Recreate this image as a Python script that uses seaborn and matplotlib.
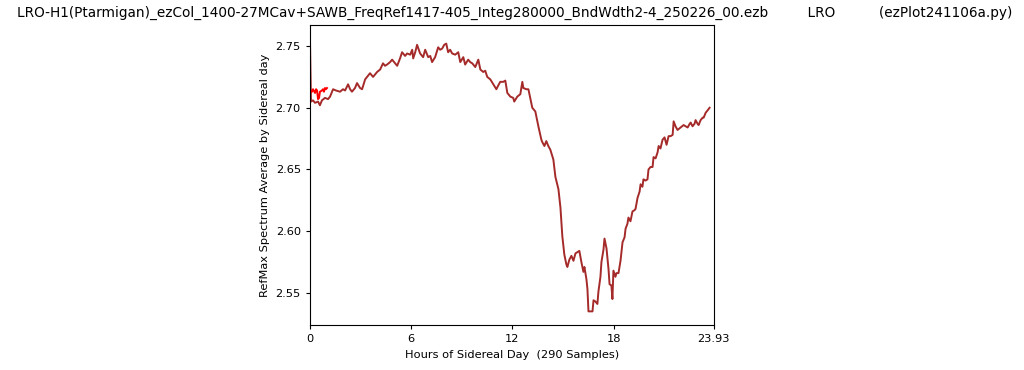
import pandas as pd
import matplotlib
matplotlib.use("Agg")
import matplotlib.pyplot as plt
import seaborn as sns

# Hours of sidereal day and RefMax average
hours = [0.00, 0.06, 0.18, 0.30, 0.48, 0.59, 0.71, 0.89, 1.07, 1.19,
         1.37, 1.54, 1.78, 1.96, 2.08, 2.26, 2.38, 2.49, 2.67, 2.79,
         2.97, 3.09, 3.27, 3.44, 3.56, 3.74, 3.86, 3.98, 4.16, 4.33,
         4.45, 4.57, 4.75, 4.87, 5.05, 5.17, 5.34, 5.46, 5.64, 5.76,
         5.94, 6.06, 6.12, 6.24, 6.35, 6.53, 6.71, 6.83, 7.01, 7.13,
         7.24, 7.42, 7.60, 7.72, 7.84, 7.96, 8.08, 8.19, 8.31, 8.43,
         8.61, 8.79, 8.91, 9.09, 9.20, 9.38, 9.50, 9.62, 9.80, 9.98,
         10.10, 10.27, 10.39, 10.51, 10.69, 10.87, 11.05, 11.16, 11.28, 11.46,
         11.58, 11.70, 11.88, 12.05, 12.11, 12.29, 12.47, 12.59, 12.65, 12.83,
         12.95, 13.18, 13.36, 13.54, 13.72, 13.78, 13.90, 14.01, 14.13, 14.25,
         14.43, 14.55, 14.73, 14.85, 14.96, 15.08, 15.20, 15.26, 15.38, 15.50,
         15.62, 15.74, 15.86, 15.97, 16.09, 16.21, 16.27, 16.39, 16.45, 16.51,
         16.63, 16.75, 16.81, 16.92, 17.04, 17.10, 17.22, 17.28, 17.40, 17.46,
         17.58, 17.70, 17.76, 17.87, 17.93, 17.99, 18.11, 18.17, 18.29, 18.41,
         18.53, 18.65, 18.71, 18.82, 18.88, 19.00, 19.12, 19.24, 19.30, 19.42,
         19.54, 19.60, 19.71, 19.77, 19.89, 20.01, 20.07, 20.19, 20.31, 20.37,
         20.49, 20.61, 20.67, 20.78, 20.90, 21.02, 21.14, 21.26, 21.38, 21.50,
         21.56, 21.67, 21.79, 21.97, 22.15, 22.27, 22.39, 22.51, 22.57, 22.68,
         22.80, 22.86, 22.98, 23.04, 23.16, 23.28, 23.34, 23.46, 23.58, 23.69]
refmax = [2.756, 2.705, 2.706, 2.704, 2.705, 2.702, 2.706, 2.708, 2.707, 2.709,
          2.715, 2.714, 2.713, 2.715, 2.714, 2.719, 2.715, 2.713, 2.716, 2.720,
          2.716, 2.715, 2.723, 2.726, 2.728, 2.725, 2.727, 2.729, 2.731, 2.736,
          2.734, 2.735, 2.737, 2.739, 2.736, 2.734, 2.740, 2.745, 2.742, 2.744,
          2.743, 2.747, 2.740, 2.745, 2.751, 2.744, 2.741, 2.747, 2.741, 2.742,
          2.737, 2.741, 2.749, 2.747, 2.748, 2.751, 2.752, 2.745, 2.747, 2.744,
          2.743, 2.745, 2.737, 2.741, 2.735, 2.739, 2.737, 2.736, 2.733, 2.739,
          2.731, 2.729, 2.730, 2.725, 2.723, 2.719, 2.715, 2.718, 2.721, 2.721,
          2.722, 2.712, 2.709, 2.708, 2.705, 2.709, 2.711, 2.721, 2.716, 2.715,
          2.715, 2.700, 2.697, 2.685, 2.674, 2.672, 2.669, 2.673, 2.669, 2.666,
          2.658, 2.644, 2.634, 2.619, 2.596, 2.581, 2.573, 2.571, 2.577, 2.580,
          2.576, 2.582, 2.583, 2.584, 2.575, 2.567, 2.571, 2.561, 2.553, 2.535,
          2.535, 2.535, 2.544, 2.543, 2.541, 2.551, 2.563, 2.575, 2.585, 2.594,
          2.586, 2.569, 2.557, 2.556, 2.545, 2.568, 2.563, 2.566, 2.566, 2.576,
          2.591, 2.595, 2.602, 2.606, 2.611, 2.608, 2.616, 2.617, 2.618, 2.627,
          2.632, 2.638, 2.636, 2.642, 2.641, 2.642, 2.650, 2.652, 2.652, 2.660,
          2.659, 2.664, 2.669, 2.667, 2.674, 2.676, 2.670, 2.677, 2.677, 2.678,
          2.689, 2.685, 2.682, 2.684, 2.686, 2.685, 2.684, 2.687, 2.688, 2.685,
          2.687, 2.690, 2.687, 2.686, 2.690, 2.692, 2.692, 2.696, 2.698, 2.700]

# short red overlay at the start of the day
red_hours = [0.00, 0.06, 0.12, 0.18, 0.30, 0.36, 0.42, 0.48, 0.54, 0.59,
             0.71, 0.77, 0.83, 0.89, 0.95, 1.01]
red_vals = [2.711, 2.714, 2.713, 2.715, 2.712, 2.715, 2.714, 2.707, 2.708, 2.713,
            2.714, 2.715, 2.713, 2.716, 2.715, 2.716]

x_ticks = [0, 6, 12, 18, 23.93]
x_tick_labels = ["0", "6", "12", "18", "23.93"]

title = ("LRO-H1(Ptarmigan)_ezCol_1400-27MCav+SAWB_FreqRef1417-405_Integ280000_BndWdth2-4_250226_00.ezb"
         "         LRO          (ezPlot241106a.py)")

df = pd.DataFrame({"hours": hours, "refmax": refmax})
df_red = pd.DataFrame({"hours": red_hours, "refmax": red_vals})

fig = plt.figure(figsize=(10.24, 3.7), dpi=100)
ax = fig.add_axes([0.3027, 0.1216, 0.3942, 0.8108])

sns.lineplot(data=df, x="hours", y="refmax", color="brown", linewidth=1.4, ax=ax)
sns.lineplot(data=df_red, x="hours", y="refmax", color="red", linewidth=1.4, ax=ax)

ax.set_xlim(0, 23.93)
ax.set_xticks(x_ticks)
ax.set_xticklabels(x_tick_labels)
ax.set_yticks([2.55, 2.60, 2.65, 2.70, 2.75])
ax.tick_params(labelsize=8.2, length=3)
ax.set_xlabel("Hours of Sidereal Day  (290 Samples)", fontsize=8.2)
ax.set_ylabel("RefMax Spectrum Average by Sidereal day", fontsize=8.2)

fig.text(17 / 1024, 1 - 13 / 370, title, ha="left", va="center", fontsize=9.8)

plt.savefig("out.png", dpi=100)
